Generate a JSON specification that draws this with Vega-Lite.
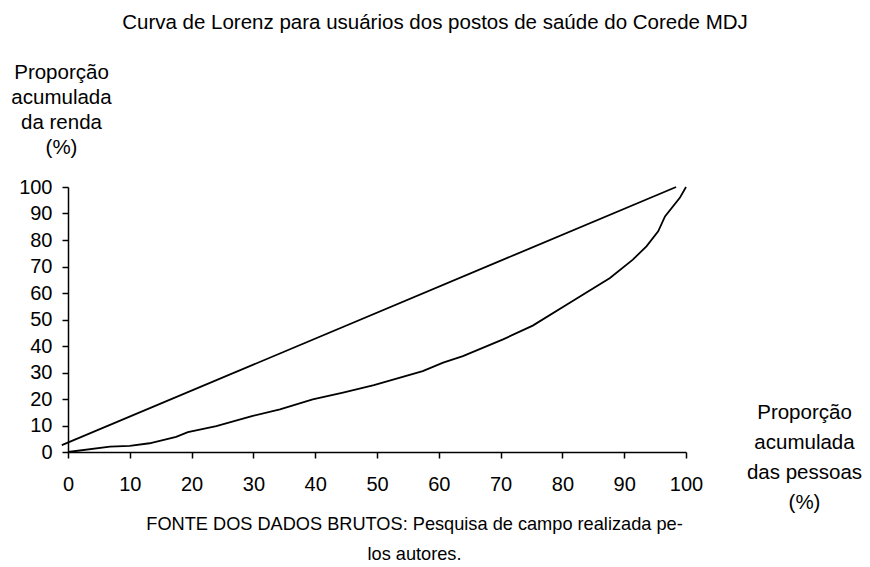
{
  "$schema": "https://vega.github.io/schema/vega-lite/v6.json",
  "width": 618,
  "height": 265,
  "autosize": "none",
  "padding": {"left": 68, "top": 187, "right": 184, "bottom": 115},
  "background": "white",
  "config": {
    "view": {"stroke": null},
    "font": "Liberation Sans",
    "axis": {"grid": false, "domainColor": "black", "tickColor": "black", "labelColor": "black", "titleColor": "black", "labelFont": "Liberation Sans", "titleFont": "Liberation Sans", "titleFontWeight": "normal", "domainWidth": 1.5, "tickWidth": 1.5, "tickSize": 6, "labelFontSize": 20, "titleFontSize": 20.5}
  },
  "title": {"text": "Curva de Lorenz para usuários dos postos de saúde do Corede MDJ", "font": "Liberation Sans", "fontSize": 20.5, "fontWeight": "normal", "color": "black", "anchor": "middle", "dx": 58, "dy": -25},
  "data": {"values": [
    {"serie": "igualdade", "x": -1, "y": 2.6},
    {"serie": "igualdade", "x": 98.4, "y": 100},
    {"serie": "lorenz", "x": 0, "y": 0},
    {"serie": "lorenz", "x": 6.8, "y": 2.0},
    {"serie": "lorenz", "x": 10, "y": 2.3},
    {"serie": "lorenz", "x": 13.2, "y": 3.3},
    {"serie": "lorenz", "x": 17.5, "y": 5.7},
    {"serie": "lorenz", "x": 19.4, "y": 7.5},
    {"serie": "lorenz", "x": 24, "y": 9.8},
    {"serie": "lorenz", "x": 29.9, "y": 13.6},
    {"serie": "lorenz", "x": 34.3, "y": 16.1},
    {"serie": "lorenz", "x": 39.6, "y": 19.9},
    {"serie": "lorenz", "x": 44.5, "y": 22.4},
    {"serie": "lorenz", "x": 49.5, "y": 25.2},
    {"serie": "lorenz", "x": 57.4, "y": 30.5},
    {"serie": "lorenz", "x": 60.7, "y": 33.7},
    {"serie": "lorenz", "x": 63.9, "y": 36.2},
    {"serie": "lorenz", "x": 70.4, "y": 42.5},
    {"serie": "lorenz", "x": 75.2, "y": 47.7},
    {"serie": "lorenz", "x": 81.2, "y": 56.3},
    {"serie": "lorenz", "x": 87.7, "y": 65.7},
    {"serie": "lorenz", "x": 91.4, "y": 72.6},
    {"serie": "lorenz", "x": 93.6, "y": 77.6},
    {"serie": "lorenz", "x": 95.5, "y": 83.3},
    {"serie": "lorenz", "x": 96.6, "y": 88.9},
    {"serie": "lorenz", "x": 99, "y": 95.9},
    {"serie": "lorenz", "x": 100, "y": 100}
  ]},
  "encoding": {
    "x": {"field": "x", "type": "quantitative", "scale": {"domain": [0, 100], "nice": false},
      "axis": {"values": [0, 10, 20, 30, 40, 50, 60, 70, 80, 90, 100], "labelPadding": 16, "labelFlush": false,
        "title": ["FONTE DOS DADOS  BRUTOS:  Pesquisa de campo realizada pe-", "los autores."],
        "titleFontSize": 18.2,
        "titleAnchor": "start", "titleAlign": "center", "titleBaseline": "alphabetic", "titleX": 346, "titleY": 77, "titleLineHeight": 30}}
  },
  "layer": [
    {
      "transform": [{"filter": "datum.serie === 'igualdade'"}],
      "mark": {"type": "line", "color": "black", "strokeWidth": 1.8, "clip": false},
      "encoding": {
        "y": {"field": "y", "type": "quantitative", "scale": {"domain": [0, 100], "nice": false},
          "axis": {"orient": "left", "values": [0, 10, 20, 30, 40, 50, 60, 70, 80, 90, 100], "labelPadding": 10, "labelFlush": false,
            "title": ["Proporção", "acumulada", "da renda", "(%)"],
            "titleAngle": 0, "titleAlign": "center", "titleAnchor": "start", "titleBaseline": "alphabetic", "titleX": -7, "titleY": -109, "titleLineHeight": 25}}
      }
    },
    {
      "transform": [{"filter": "datum.serie === 'lorenz'"}],
      "mark": {"type": "line", "color": "black", "strokeWidth": 1.8, "clip": false},
      "encoding": {
        "y": {"field": "y", "type": "quantitative", "scale": {"domain": [0, 100], "nice": false},
          "axis": {"orient": "right", "domain": false, "ticks": false, "labels": false,
            "title": ["Proporção", "acumulada", "das pessoas", "(%)"],
            "titleAngle": 0, "titleAlign": "center", "titleAnchor": "start", "titleBaseline": "alphabetic", "titleX": 118, "titleY": 231, "titleLineHeight": 30}}
      }
    }
  ],
  "resolve": {"axis": {"y": "independent"}}
}
